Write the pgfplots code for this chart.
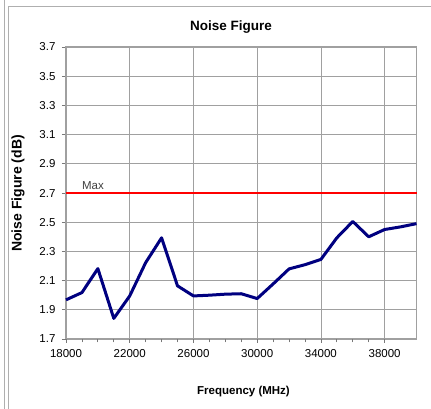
\documentclass[border=0pt]{standalone}
\usepackage{pgfplots}
\pgfplotsset{compat=1.18}
\usepackage{fontspec}
\setmainfont{Liberation Sans}

\definecolor{navyline}{RGB}{0,0,128}
\definecolor{gridgray}{RGB}{160,160,160}
\definecolor{framegray}{RGB}{175,175,175}
\definecolor{axisgray}{RGB}{120,120,120}

\begin{document}
\begin{tikzpicture}[x=1pt,y=1pt]
  \useasboundingbox (0,0) rectangle (431,409);
  \fill[white] (0,0) rectangle (431,409);
  % chart frame
  \draw[framegray, line width=1pt] (4,0) -- (4,409);
  \draw[framegray, line width=1pt] (8,0) -- (8,402) -- (431,402);

  \begin{axis}[
    at={(66pt,70pt)}, anchor=south west,
    scale only axis, width=350.5pt, height=292pt,
    xmin=18000, xmax=40000, ymin=1.7, ymax=3.7,
    xtick={18000,22000,26000,30000,34000,38000},
    minor x tick num=3,
    ytick={1.7,1.9,2.1,2.3,2.5,2.7,2.9,3.1,3.3,3.5,3.7},
    yticklabels={1.7,1.9,2.1,2.3,2.5,2.7,2.9,3.1,3.3,3.5,3.7},
    scaled x ticks=false,
    xticklabel style={/pgf/number format/1000 sep={}},
    /pgf/number format/assume math mode=true,
    tick label style={font=\fontsize{11.5}{13}\selectfont},
    xtick pos=lower, ytick pos=left,
    tick align=outside,
    major tick length=4pt, minor tick length=3.5pt,
    every tick/.style={axisgray, line width=0.8pt},
    xticklabel shift=3pt, yticklabel shift=3pt,
    grid=major,
    major grid style={gridgray, line width=0.8pt},
    axis line style={gridgray, line width=1pt},
    clip=false,
  ]
    % limit line
    \addplot[red, line width=2.8pt] coordinates {(18000,2.7) (40000,2.7)};
    \node[anchor=base west, text=black!75, font=\fontsize{11.5}{13}\selectfont, inner sep=0pt]
      at (axis cs:19000,2.7) [yshift=3pt] {Max};
    % measured noise figure
    \addplot[navyline, line width=3pt, line join=round] coordinates {
      (18000,1.968) (19000,2.018) (20000,2.182) (21000,1.841) (22000,1.995)
      (23000,2.223) (24000,2.393) (25000,2.064) (26000,1.995) (27000,2.000)
      (28000,2.007) (29000,2.010) (30000,1.977) (31000,2.077) (32000,2.180)
      (33000,2.209) (34000,2.245) (35000,2.393) (36000,2.505) (37000,2.400)
      (38000,2.450) (39000,2.468) (40000,2.490)
    };
  \end{axis}

  \node[font=\bfseries\fontsize{13.5}{15}\selectfont] at (231,382) {Noise Figure};
  \node[font=\bfseries\fontsize{11.5}{13}\selectfont] at (243.5,17) {Frequency (MHz)};
  \node[font=\bfseries\fontsize{14}{16}\selectfont, rotate=90] at (18,215.5) {Noise Figure (dB)};
\end{tikzpicture}
\end{document}
